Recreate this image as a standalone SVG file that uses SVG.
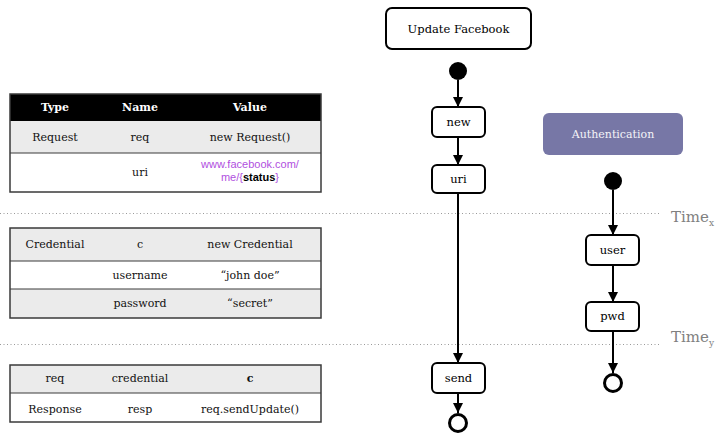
<svg xmlns="http://www.w3.org/2000/svg" width="723" height="434" viewBox="0 0 723 434">
<defs>
<marker id="ah" viewBox="0 0 10 10" refX="10" refY="5" markerWidth="5.5" markerHeight="5" orient="auto" markerUnits="strokeWidth">
<path d="M0,0 L10,5 L0,10 z" fill="#000"/>
</marker>
</defs>
<style>
text{font-family:"DejaVu Serif","Liberation Serif",serif;}
.t{font-size:11px;fill:#111;text-anchor:middle;}
.th{font-size:11px;fill:#fff;font-weight:bold;text-anchor:middle;}
.g{fill:#ebebeb;}
.w{fill:#fff;}
.bd{fill:none;stroke:#3a3a3a;stroke-width:1.5;}
.sep{stroke:#3a3a3a;stroke-width:1;}
.node{fill:#fff;stroke:#000;stroke-width:2;}
.nt{font-size:11.5px;fill:#000;text-anchor:middle;}
.conn{stroke:#000;stroke-width:2;fill:none;marker-end:url(#ah);}
.dot{stroke:#9a9a9a;stroke-width:1;stroke-dasharray:1 2.5;}
.time{font-size:15px;fill:#808080;}
.purple{font-family:"Liberation Sans",Arial,sans-serif;font-size:11px;fill:#b04fe0;text-anchor:middle;}
</style>

<!-- dotted time lines -->
<line class="dot" x1="0" y1="213.5" x2="660" y2="213.5"/>
<line class="dot" x1="0" y1="344.5" x2="660" y2="344.5"/>
<text class="time" x="671" y="222">Time<tspan font-size="9" dy="4">x</tspan></text>
<text class="time" x="671" y="342">Time<tspan font-size="9" dy="4">y</tspan></text>

<!-- table 1 -->
<g id="table1">
<rect x="10" y="94" width="311" height="27" fill="#000"/>
<rect class="g" x="10" y="121" width="311" height="32"/>
<rect class="w" x="10" y="153" width="311" height="39"/>
<line class="sep" x1="10" y1="153" x2="321" y2="153"/>
<rect class="bd" x="10" y="94" width="311" height="98"/>
<text class="th" x="55" y="111">Type</text>
<text class="th" x="140" y="111">Name</text>
<text class="th" x="250" y="111">Value</text>
<text class="t" x="55" y="141">Request</text>
<text class="t" x="140" y="141">req</text>
<text class="t" x="250" y="141">new Request()</text>
<text class="t" x="140" y="176">uri</text>
<text class="purple" x="250" y="168">www.facebook.com/</text>
<text class="purple" x="250" y="181">me/{<tspan font-weight="bold" fill="#000">status</tspan>}</text>
</g>

<!-- table 2 -->
<g id="table2">
<rect class="g" x="10" y="228" width="311" height="33"/>
<rect class="w" x="10" y="261" width="311" height="28"/>
<rect class="g" x="10" y="289" width="311" height="29"/>
<line class="sep" x1="10" y1="261" x2="321" y2="261"/>
<line class="sep" x1="10" y1="289" x2="321" y2="289"/>
<rect class="bd" x="10" y="228" width="311" height="90"/>
<text class="t" x="55" y="248">Credential</text>
<text class="t" x="140" y="248">c</text>
<text class="t" x="250" y="248">new Credential</text>
<text class="t" x="140" y="279">username</text>
<text class="t" x="250" y="279">“john doe”</text>
<text class="t" x="140" y="307">password</text>
<text class="t" x="250" y="307">“secret”</text>
</g>

<!-- table 3 -->
<g id="table3">
<rect class="g" x="10" y="365" width="311" height="28"/>
<rect class="w" x="10" y="393" width="311" height="29"/>
<line class="sep" x1="10" y1="393" x2="321" y2="393"/>
<rect class="bd" x="10" y="365" width="311" height="57"/>
<text class="t" x="55" y="382">req</text>
<text class="t" x="140" y="382">credential</text>
<text class="t" x="250" y="382" font-weight="bold">c</text>
<text class="t" x="55" y="413">Response</text>
<text class="t" x="140" y="413">resp</text>
<text class="t" x="250" y="413">req.sendUpdate()</text>
</g>

<!-- connectors -->
<g id="connectors">
<line class="conn" x1="458" y1="80" x2="458" y2="107"/>
<line class="conn" x1="458" y1="137" x2="458" y2="165"/>
<line class="conn" x1="458" y1="193" x2="458" y2="363"/>
<line class="conn" x1="458" y1="393" x2="458" y2="413"/>
<line class="conn" x1="613" y1="190" x2="613" y2="235"/>
<line class="conn" x1="613" y1="265" x2="613" y2="302"/>
<line class="conn" x1="613" y1="331" x2="613" y2="373"/>
</g>

<!-- flow 1 -->
<g id="update-facebook">
<rect class="node" x="386" y="8" width="145" height="41" rx="6"/>
<text class="nt" x="458.5" y="33" font-size="11">Update Facebook</text>
</g>
<g id="start1"><circle cx="458" cy="71" r="9" fill="#000"/></g>
<g id="new">
<rect class="node" x="432" y="107" width="53" height="30" rx="5"/>
<text class="nt" x="458.5" y="126">new</text>
</g>
<g id="uri">
<rect class="node" x="432" y="165" width="53" height="28" rx="5"/>
<text class="nt" x="458.5" y="183">uri</text>
</g>
<g id="send">
<rect class="node" x="432" y="363" width="53" height="30" rx="5"/>
<text class="nt" x="458.5" y="382">send</text>
</g>
<g id="end1"><circle cx="458" cy="423" r="8.5" fill="#fff" stroke="#000" stroke-width="3"/></g>

<!-- flow 2 -->
<g id="authentication">
<rect x="543" y="113" width="140" height="42" rx="6" fill="#7777a6"/>
<text x="613" y="138" font-size="11" fill="#f4f4f8" text-anchor="middle">Authentication</text>
</g>
<g id="start2"><circle cx="613" cy="181" r="9" fill="#000"/></g>
<g id="user">
<rect class="node" x="586" y="235" width="53" height="30" rx="5"/>
<text class="nt" x="612.5" y="254">user</text>
</g>
<g id="pwd">
<rect class="node" x="586" y="302" width="53" height="29" rx="5"/>
<text class="nt" x="612.5" y="320">pwd</text>
</g>
<g id="end2"><circle cx="613" cy="383" r="8.5" fill="#fff" stroke="#000" stroke-width="3"/></g>
</svg>
